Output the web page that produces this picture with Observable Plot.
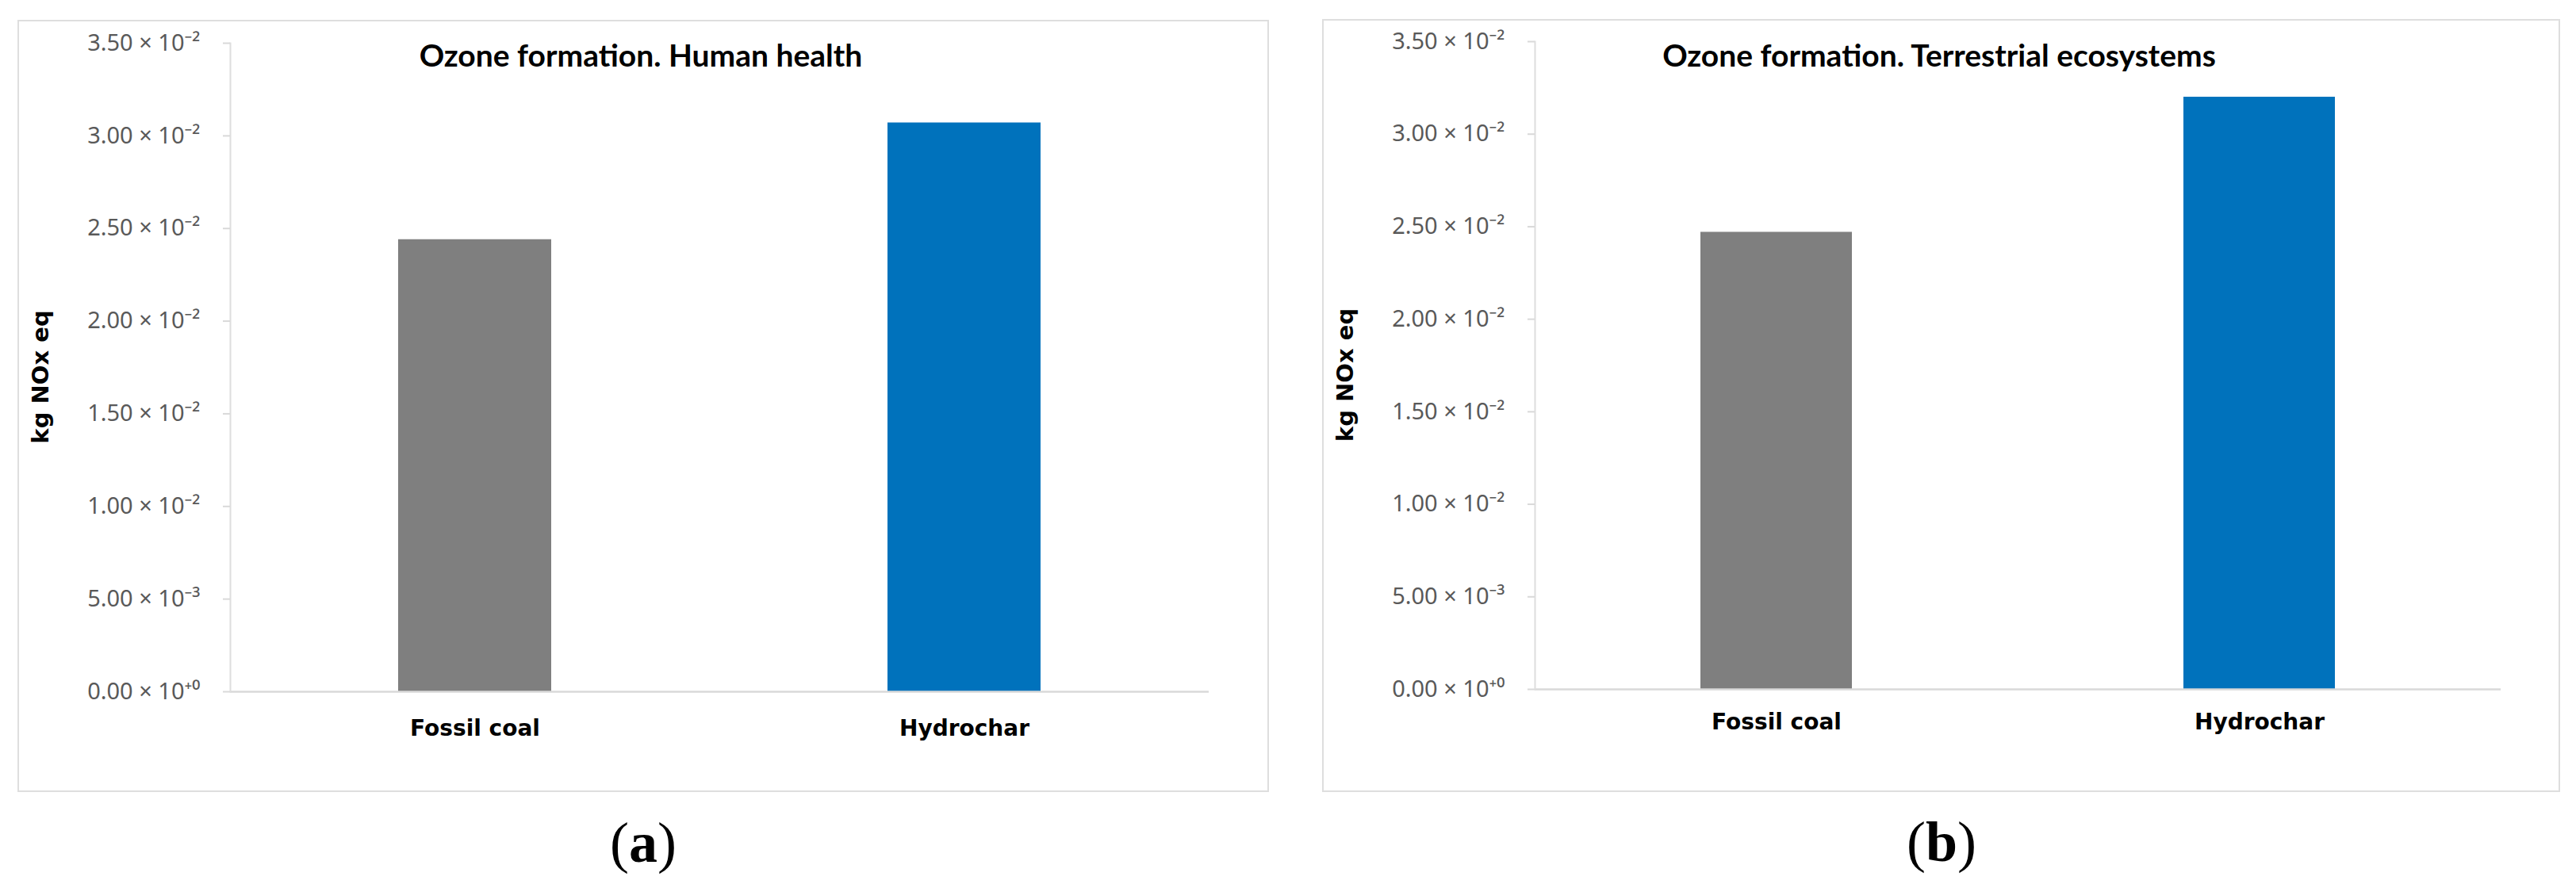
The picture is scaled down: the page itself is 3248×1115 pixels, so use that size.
<!DOCTYPE html>
<html><head><meta charset="utf-8">
<script src="https://cdn.jsdelivr.net/npm/d3@7"></script>
<script src="https://cdn.jsdelivr.net/npm/@observablehq/plot@0.6"></script>
<style>
html,body{margin:0;padding:0;background:#fff;}
#root{position:relative;width:3248px;height:1115px;background:#fff;overflow:hidden;}
.frame{position:absolute;box-sizing:border-box;border:2px solid #dedede;}
.plot{position:absolute;}
.title{position:absolute;transform:translate(-50%,-50%);white-space:nowrap;font-family:Lato;font-weight:700;font-size:39px;color:#000;}
.caption{position:absolute;transform:translate(-50%,-50%);white-space:nowrap;font-family:"Liberation Serif";font-size:72px;color:#000;}
</style></head><body><div id="root"></div><script>
// ---- data ----
const categories = ["Fossil coal", "Hydrochar"];
const humanHealth = [0.0244, 0.0307];
const terrestrial = [0.0247, 0.0320];
const barColors = ["#7f7f7f", "#0072bc"];
const yTicks = [0, 0.005, 0.010, 0.015, 0.020, 0.025, 0.030, 0.035];
const yTickLabels = ["0.00 × 10⁺⁰", "5.00 × 10⁻³", "1.00 × 10⁻²", "1.50 × 10⁻²", "2.00 × 10⁻²", "2.50 × 10⁻²", "3.00 × 10⁻²", "3.50 × 10⁻²"];
const yLabel = "kg NOx eq";
const titles = ["Ozone formation. Human health", "Ozone formation. Terrestrial ecosystems"];
const captions = ["a", "b"];

// ---- layout ----
const panels = [
  {values: humanHealth, left: 22, top: 25, w: 1578, h: 974, ml: 268, mr: 76, mt: 29, mb: 127, xpad: 36,
   titleX: 808, titleY: 69, capX: 811, capY: 1063},
  {values: terrestrial, left: 1667, top: 24, w: 1561, h: 975, ml: 268, mr: 75, mt: 28, mb: 130, xpad: 31,
   titleX: 2445, titleY: 69, capX: 2448, capY: 1062}
];

const root = document.getElementById("root");

panels.forEach((p, k) => {
  const frame = document.createElement("div");
  frame.className = "frame";
  Object.assign(frame.style, {left: p.left + "px", top: p.top + "px", width: p.w + "px", height: p.h + "px"});
  root.appendChild(frame);

  const data = categories.map((c, i) => ({category: c, value: p.values[i]}));
  const chart = Plot.plot({
    width: p.w, height: p.h,
    marginLeft: p.ml, marginRight: p.mr, marginTop: p.mt, marginBottom: p.mb,
    style: {background: "transparent", overflow: "visible"},
    x: {domain: categories, paddingInner: 0.687, paddingOuter: 0.3435, axis: null},
    y: {domain: [0, 0.035], axis: null},
    color: {domain: categories, range: barColors},
    marks: [
      Plot.barY(data, {x: "category", y: "value", fill: "category"}),
      Plot.ruleY([0], {stroke: "#d9d9d9", strokeWidth: 2.5}),
      Plot.frame({anchor: "left", stroke: "#dedede", strokeWidth: 2}),
      Plot.axisY(yTicks, {
        tickFormat: d => yTickLabels[yTicks.indexOf(d)],
        tickSize: 9, tickPadding: 29, stroke: "#d9d9d9", strokeWidth: 2,
        fill: "#595959", fontSize: 29, fontFamily: "Noto Sans", label: null
      }),
      Plot.axisX({tickSize: 0, tickPadding: p.xpad, fontSize: 28, fontWeight: "bold",
        fontFamily: "DejaVu Sans", fill: "#000", label: null}),
      Plot.text([yLabel], {text: d => d, frameAnchor: "left", textAnchor: "middle", rotate: -90, dx: -250, dy: 12,
        lineAnchor: "top", fontSize: 29, fontWeight: "bold", fontFamily: "DejaVu Sans", fill: "#000"})
    ]
  });
  chart.classList.add("plot");
  Object.assign(chart.style, {left: p.left + "px", top: p.top + "px"});
  root.appendChild(chart);

  const t = document.createElement("div");
  t.className = "title";
  t.textContent = titles[k];
  Object.assign(t.style, {left: p.titleX + "px", top: p.titleY + "px"});
  root.appendChild(t);

  const c = document.createElement("div");
  c.className = "caption";
  c.innerHTML = "(<b>" + captions[k] + "</b>)";
  Object.assign(c.style, {left: p.capX + "px", top: p.capY + "px"});
  root.appendChild(c);
});
</script></body></html>
